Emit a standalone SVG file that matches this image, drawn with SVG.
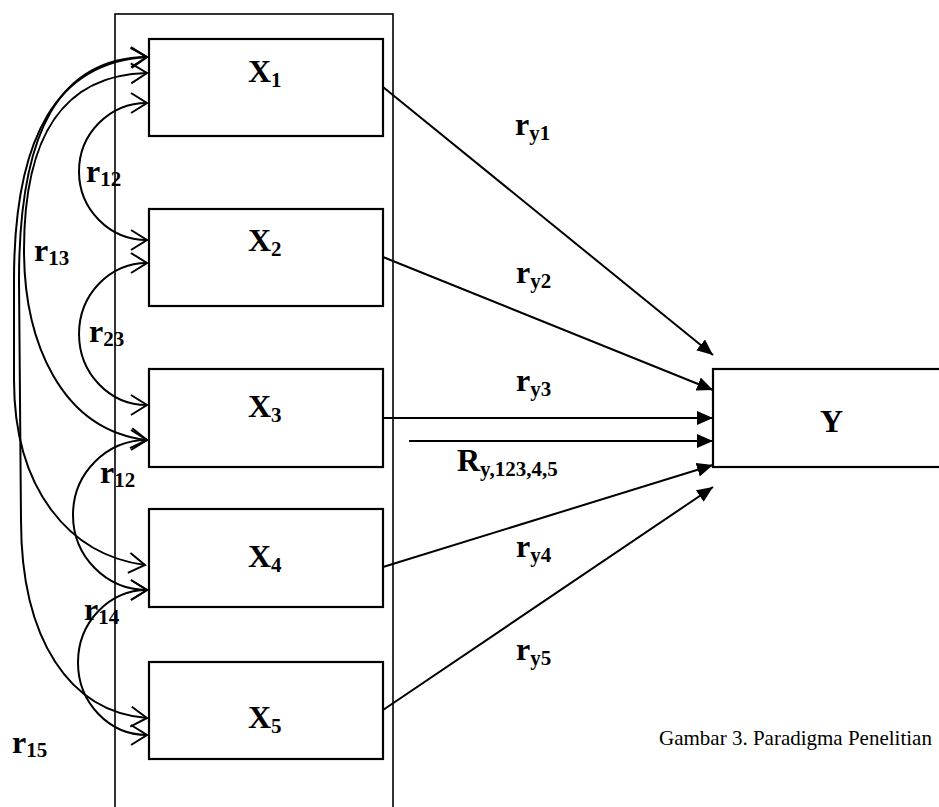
<svg xmlns="http://www.w3.org/2000/svg" width="939" height="807" viewBox="0 0 939 807">
  <style>
    .box { fill: #fff; stroke: #000; stroke-width: 2.2; }
    .frame { fill: none; stroke: #000; stroke-width: 1.6; }
    .lbl { font-family: "Liberation Serif", "Times New Roman", serif; font-weight: bold; font-size: 32px; fill: #000; }
    .sub { font-size: 21px; }
    .cap { font-family: "Liberation Serif", "Times New Roman", serif; font-size: 21px; fill: #000; }
    .corr { fill: none; stroke: #000; stroke-width: 2; marker-start: url(#open); marker-end: url(#open); }
    .path { fill: none; stroke: #000; stroke-width: 2; marker-end: url(#solid); }
  </style>
  <defs>
    <marker id="open" viewBox="0 0 20 22" refX="18" refY="11" markerWidth="20" markerHeight="22" markerUnits="userSpaceOnUse" orient="auto-start-reverse">
      <path d="M2,1 L18,11 L2,21" fill="none" stroke="#000" stroke-width="2"/>
    </marker>
    <marker id="solid" viewBox="0 0 16 14" refX="16" refY="7" markerWidth="16" markerHeight="14" markerUnits="userSpaceOnUse" orient="auto">
      <path d="M0,0 L16,7 L0,14 Z" fill="#000"/>
    </marker>
  </defs>

  <rect width="939" height="807" fill="#fff"/>

  <!-- frame around the independent variables -->
  <rect class="frame" x="115" y="14" width="278" height="820"/>

  <g id="X1">
    <rect class="box" x="149" y="39" width="234" height="97"/>
    <text class="lbl" x="248" y="82">X<tspan class="sub" dy="5">1</tspan></text>
  </g>
  <g id="X2">
    <rect class="box" x="149" y="209" width="234" height="97"/>
    <text class="lbl" x="248" y="251">X<tspan class="sub" dy="5">2</tspan></text>
  </g>
  <g id="X3">
    <rect class="box" x="149" y="369" width="234" height="98"/>
    <text class="lbl" x="248" y="417">X<tspan class="sub" dy="5">3</tspan></text>
  </g>
  <g id="X4">
    <rect class="box" x="149" y="509" width="234" height="98"/>
    <text class="lbl" x="248" y="567">X<tspan class="sub" dy="5">4</tspan></text>
  </g>
  <g id="X5">
    <rect class="box" x="149" y="662" width="234" height="97"/>
    <text class="lbl" x="248" y="728">X<tspan class="sub" dy="5">5</tspan></text>
  </g>
  <g id="Y">
    <rect class="box" x="713" y="369" width="260" height="98"/>
    <text class="lbl" x="820" y="432">Y</text>
  </g>

  <g id="connectors">
    <!-- correlations between predictors -->
    <path class="corr" d="M147,103 A68,68.5 0 0 0 147,240"/>
    <path class="corr" d="M147,263 A68,71 0 0 0 147,405"/>
    <path class="corr" d="M147,440 A74,75 0 0 0 147,590"/>
    <path class="corr" d="M147,590 A69,72.5 0 0 0 147,735"/>
    <path class="corr" d="M147,73 C60,75 24,140 24,250 C24,340 60,430 147,440"/>
    <path class="corr" d="M147,57 C58,62 14,135 14,280 L14,380 C14,490 70,555 145,565"/>
    <path class="corr" d="M147,57 C60,58 19,130 19,280 L21,520 C21,640 70,712 147,718"/>

    <!-- paths to Y -->
    <path class="path" d="M383,87 L713,355"/>
    <path class="path" d="M383,257 L713,390"/>
    <path class="path" d="M383,418 L713,418"/>
    <path class="path" d="M409,441 L713,441"/>
    <path class="path" d="M383,567 L713,465"/>
    <path class="path" d="M383,710 L713,487"/>
  </g>

  <g id="labels">
    <text class="lbl" x="86" y="182">r<tspan class="sub" dy="4">12</tspan></text>
    <text class="lbl" x="34" y="261">r<tspan class="sub" dy="4">13</tspan></text>
    <text class="lbl" x="89" y="342">r<tspan class="sub" dy="4">23</tspan></text>
    <text class="lbl" x="100" y="483">r<tspan class="sub" dy="4">12</tspan></text>
    <text class="lbl" x="84" y="620">r<tspan class="sub" dy="4">14</tspan></text>
    <text class="lbl" x="12" y="753">r<tspan class="sub" dy="4">15</tspan></text>

    <text class="lbl" x="515" y="135">r<tspan class="sub" dy="5">y1</tspan></text>
    <text class="lbl" x="516" y="283">r<tspan class="sub" dy="5">y2</tspan></text>
    <text class="lbl" x="516" y="391">r<tspan class="sub" dy="5">y3</tspan></text>
    <text class="lbl" x="457" y="471">R<tspan class="sub" dy="5">y,123,4,5</tspan></text>
    <text class="lbl" x="516" y="557">r<tspan class="sub" dy="5">y4</tspan></text>
    <text class="lbl" x="516" y="660">r<tspan class="sub" dy="5">y5</tspan></text>
  </g>

  <text class="cap" x="659" y="745">Gambar 3. Paradigma Penelitian</text>
</svg>
